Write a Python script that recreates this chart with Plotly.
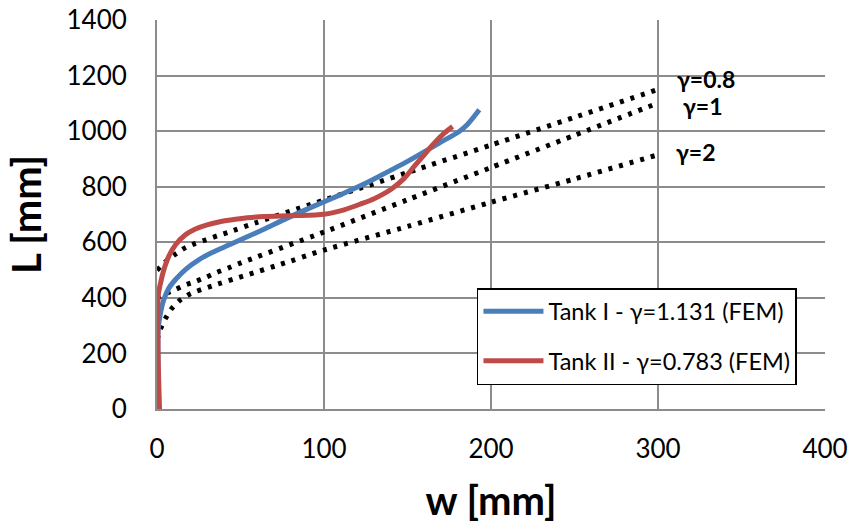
import plotly.graph_objects as go

# Tank curves (w [mm], L [mm])
tank1_w = [0.6, 0.6, 0.7, 2.1, 4.1, 7.1, 11.1, 17, 25, 33, 43, 53, 64, 78, 94, 104, 111, 122, 130, 150, 169, 181, 186, 193]
tank1_L = [0, 150, 286, 346, 394, 435, 466, 502, 537, 563, 590, 617, 647, 687, 730, 756, 774, 804, 828, 891, 957, 999, 1025, 1077]

tank2_w = [1.5, 0.8, 0.5, 0.7, 2.1, 4.1, 7.1, 11.1, 17, 23, 30, 37, 44, 54, 64, 74, 84, 100, 112, 122, 130, 140, 148, 154, 160, 166, 172, 177]
tank2_L = [0, 150, 286, 406, 453, 501, 550, 591, 627, 648, 663, 673, 680, 688, 693, 695, 696, 701, 717, 738, 757, 790, 830, 873, 915, 957, 993, 1017]

# analytical curves for gamma values
g08_w = [0, 4.7, 10.5, 16, 22.6, 29.4, 36, 42.6, 60, 100, 150, 200, 250, 300]
g08_L = [499, 528, 555, 577, 595, 609, 623, 636, 672, 752, 851, 950, 1050, 1150]

g1_w = [0, 3.7, 10, 16.4, 23, 29.6, 36, 42.6, 49, 100, 150, 200, 250, 300]
g1_L = [398, 412, 427, 445, 459, 475, 492, 507, 523, 637, 753, 869, 985, 1101]

g2_w = [0, 2.1, 5.1, 8.7, 13.7, 20, 33, 53.6, 73.7, 100, 150, 200, 250, 300]
g2_L = [250, 288, 326, 361, 391, 415, 443, 482, 520, 572, 657, 744, 828, 915]

gamma_labels = ["γ=0.8", "γ=1", "γ=2"]
gamma_label_w = [329, 327, 323]
gamma_label_L = [1188, 1091, 925]

x_ticks = [0, 100, 200, 300, 400]
y_ticks = [0, 200, 400, 600, 800, 1000, 1200, 1400]

FONT = "Lato"
fig = go.Figure()

for w, L in [(g08_w, g08_L), (g1_w, g1_L), (g2_w, g2_L)]:
    fig.add_trace(go.Scatter(x=w, y=L, mode="lines", showlegend=False,
                             line=dict(color="black", width=5, dash="4px,7px", shape="spline", smoothing=0.6),
                             hoverinfo="skip"))

fig.add_trace(go.Scatter(x=tank1_w, y=tank1_L, mode="lines", name="Tank I - γ=1.131 (FEM)",
                         legendgroup="a",
                         line=dict(color="#4A7EBB", width=5, shape="spline", smoothing=0.8)))
fig.add_trace(go.Scatter(x=tank2_w, y=tank2_L, mode="lines", name="Tank II - γ=0.783 (FEM)",
                         legendgroup="b",
                         line=dict(color="#BE4B48", width=5, shape="spline", smoothing=0.8)))

for t, xw, yl in zip(gamma_labels, gamma_label_w, gamma_label_L):
    fig.add_annotation(x=xw, y=yl, text="<b>%s</b>" % t, showarrow=False,
                       font=dict(family=FONT, size=23, color="black"))

fig.update_layout(
    width=851, height=530,
    margin=dict(l=156.5, r=26, t=20, b=120.5, autoexpand=False),
    paper_bgcolor="white", plot_bgcolor="white",
    font=dict(family=FONT, color="black"),
    showlegend=True,
    legend=dict(x=0.479, y=0.311, xanchor="left", yanchor="top",
                bgcolor="white", bordercolor="black", borderwidth=1.5,
                font=dict(family=FONT, size=23.5, color="black"),
                traceorder="grouped", tracegroupgap=16, itemwidth=60),
)
fig.update_xaxes(range=[0, 400], tickvals=x_ticks, showgrid=True, gridcolor="#8C8C8C", gridwidth=2,
                 showline=True, linecolor="#8C8C8C", linewidth=2, zeroline=False, automargin=False,
                 ticks="", ticklabelstandoff=16, tickfont=dict(family=FONT, size=26),
                 title=dict(text="<b>w [mm]</b>", font=dict(family=FONT, size=40), standoff=24))
fig.update_yaxes(range=[0, 1400], tickvals=y_ticks, showgrid=True, gridcolor="#8C8C8C", gridwidth=2,
                 showline=True, linecolor="#8C8C8C", linewidth=2, zeroline=False, automargin=False,
                 ticks="", ticklabelstandoff=23, tickfont=dict(family=FONT, size=26),
                 title=dict(text="<b>L [mm]</b>", font=dict(family=FONT, size=40), standoff=12))

fig.write_html("out.html", config={"displayModeBar": False},
               post_script="document.body.style.margin='0';document.body.style.overflow='hidden';")
